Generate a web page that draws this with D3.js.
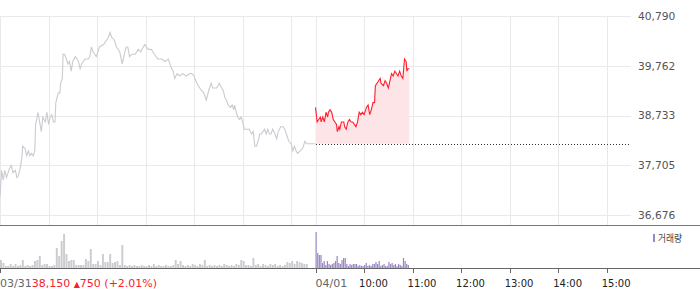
<!DOCTYPE html>
<html>
<head>
<meta charset="utf-8">
<script src="https://cdn.jsdelivr.net/npm/d3@7"></script>
<style>
  body { margin: 0; background: #fff; }
  svg { display: block; }
</style>
</head>
<body>
<div id="chart"></div>
<script>
// 03/31 session: [minutes after 09:00, price]
var prevDay = [[0,37050],[2,37600],[4,37400],[6,37600],[8,37450],[12,37650],[14,37700],[16,37550],[19,37600],[21,37450],
  [23,37500],[25,37650],[27,37850],[28,38100],[31,38050],[33,37900],[35,38000],[37,37900],[39,37950],[41,37900],
  [43,38000],[44,38550],[47,38800],[49,38600],[51,38400],[53,38700],[56,38600],[58,38800],[60,38550],[62,38700],
  [64,38750],[66,38600],[68,38600],[69,39000],[72,39200],[74,39200],[75,39400],[77,39500],[78,40000],[80,40000],
  [82,39900],[84,39800],[86,39850],[88,39650],[90,39850],[93,39950],[95,39900],[97,39850],[99,39700],[101,39800],
  [103,39850],[105,39900],[107,39900],[109,39900],[111,39950],[113,40150],[115,40050],[117,40000],[119,39950],[121,40050],
  [123,40150],[128,40200],[132,40300],[134,40350],[136,40450],[138,40350],[141,40300],[144,40150],[148,40050],[151,39800],
  [153,39950],[156,40150],[158,40150],[160,39950],[163,40000],[167,40000],[171,40100],[174,40050],[177,40150],[179,40200],
  [183,40100],[187,40100],[191,40000],[195,39900],[200,39900],[204,39850],[208,39900],[211,39750],[214,39650],[216,39500],
  [219,39600],[222,39550],[226,39600],[230,39550],[235,39600],[237,39600],[240,39550],[242,39450],[245,39350],[249,39250],
  [252,39200],[255,39050],[258,39250],[261,39400],[263,39300],[268,39300],[271,39400],[274,39300],[276,39250],[278,39100],
  [280,39050],[282,38950],[285,38900],[287,38950],[289,38850],[290,38950],[292,38800],[294,38700],[296,38650],[298,38700],
  [300,38600],[302,38450],[305,38450],[308,38450],[311,38350],[313,38400],[315,38100],[317,38100],[319,38200],[321,38350],
  [323,38350],[325,38400],[327,38450],[329,38350],[331,38450],[333,38350],[335,38350],[337,38450],[340,38350],[342,38250],
  [344,38400],[347,38500],[350,38500],[352,38450],[354,38350],[357,38200],[360,38150],[362,38000],[364,38100],[366,38000],
  [368,37950],[371,38000],[374,38050],[377,38200],[379,38150],[383,38150],[390,38150]];

// 04/01 session so far
var today = [[0,38900],[2,38600],[4,38650],[6,38700],[7,38600],[9,38700],[11,38600],[13,38800],[15,38700],[16,38800],
  [18,38850],[20,38800],[22,38650],[24,38600],[26,38550],[27,38400],[29,38500],[30,38450],[32,38600],[35,38600],
  [36,38500],[38,38450],[40,38600],[42,38650],[44,38600],[46,38600],[48,38550],[50,38500],[52,38600],[54,38800],
  [56,38750],[58,38800],[60,38750],[63,38900],[65,38950],[67,38750],[69,38850],[71,39000],[73,39000],[74,39350],
  [76,39400],[78,39450],[80,39500],[81,39400],[84,39350],[86,39450],[88,39400],[90,39300],[92,39450],[94,39600],
  [96,39550],[98,39650],[100,39600],[102,39550],[104,39650],[106,39550],[108,39500],[110,39900],[112,39850],[113,39650],
  [114,39700],[116,39700]];

// volume, thousand shares: 03/31 in 3-minute buckets, 04/01 in 2-minute buckets
var prevVolume = [8,5,2,2,4,2,4,2,3,8, 2,3,2,3,7,8,12,3,4,4, 2,2,3,20,12,27,34,14,7,8,
  8,3,3,3,3,9,7,19,4,4, 7,3,14,6,6,14,5,6,7,3, 23,3,2,3,2,3,2,2,3,2,
  2,3,2,4,2,3,2,2,3,2, 2,3,8,4,7,3,2,3,2,4, 3,2,4,3,8,2,3,2,3,2,
  3,2,4,3,2,3,2,4,3,8, 7,3,3,2,10,3,4,2,4,3, 2,4,3,4,2,3,2,3,6,5,
  7,4,7,6,5,4,4,0,0,0];
var todayVolume = [36,15,13,13,5,7,3,7,4,3, 4,5,7,12,5,4,8,10,10,4, 2,4,3,4,4,4,2,3,2,2,
  3,5,2,3,2,4,4,6,4,7, 2,3,4,2,2,6,4,5,3,4, 2,4,3,2,10,7,4,3];

var priceTicks = [36676, 37705, 38733, 39762, 40790];
var hourLabels = ["10:00", "11:00", "12:00", "13:00", "14:00", "15:00"];
var dayLabels = ["03/31", "04/01"];
var prevClose = 38150;
var closeLabel = ["38,150", "750", "(+2.01%)"];

var WIDTH = 700, HEIGHT = 289, SESSION = 390;

var svg = d3.select("#chart").append("svg")
    .attr("width", WIDTH)
    .attr("height", HEIGHT);

// both sessions laid side by side, 390 trading minutes each
var x = d3.scaleLinear().domain([0, SESSION * 2]).range([0, 631]);
var y = d3.scaleLinear().domain([36676, 40790]).range([215, 16]);
var yv = d3.scaleLinear().domain([0, 42]).range([268, 226]);

function px(v) { return Math.round(v) + 0.5; }

var grid = svg.append("g").attr("class", "grid");

grid.selectAll("line.h").data(priceTicks).enter()
  .append("line")
    .attr("x1", 0).attr("x2", 631)
    .attr("y1", function(d) { return px(y(d)); })
    .attr("y2", function(d) { return px(y(d)); })
    .attr("stroke", "#e9e9e9");

// hourly lines for both days
var gridMinutes = d3.range(0, 361, 60).concat(d3.range(SESSION, SESSION + 361, 60));

grid.selectAll("line.v").data(gridMinutes).enter()
  .append("line")
    .attr("x1", function(d) { return px(x(d)); })
    .attr("x2", function(d) { return px(x(d)); })
    .attr("y1", px(y(40790))).attr("y2", 225)
    .attr("stroke", "#e9e9e9");

// price labels on the right
svg.append("g").selectAll("text").data(priceTicks).enter()
  .append("text")
    .attr("x", 638)
    .attr("y", function(d) { return y(d); })
    .attr("dy", "0.36em")
    .attr("font-family", "DejaVu Sans")
    .attr("font-size", 10.7)
    .attr("fill", "#555")
    .text(d3.format(","));

// today area + line
var area = d3.area()
    .x(function(d) { return x(SESSION + d[0]); })
    .y0(y(prevClose))
    .y1(function(d) { return y(d[1]); });

svg.append("path")
    .datum(today)
    .attr("d", area)
    .attr("fill", "#fde5e7");

// previous close reference
svg.append("line")
    .attr("x1", Math.round(x(SESSION))).attr("x2", 631)
    .attr("y1", px(y(prevClose))).attr("y2", px(y(prevClose)))
    .attr("stroke", "#333")
    .attr("stroke-dasharray", "1,2");

var lineToday = d3.line()
    .x(function(d) { return x(SESSION + d[0]); })
    .y(function(d) { return y(d[1]); });

var linePrev = d3.line()
    .x(function(d) { return x(d[0]); })
    .y(function(d) { return y(d[1]); });

svg.append("path")
    .datum(prevDay)
    .attr("d", linePrev)
    .attr("fill", "none")
    .attr("stroke", "#c9cbd0")
    .attr("stroke-width", 1.1);

svg.append("path")
    .datum(today)
    .attr("d", lineToday)
    .attr("fill", "none")
    .attr("stroke", "#ff1e2e")
    .attr("stroke-width", 1.1);

// volume panel
var vol = svg.append("g").attr("class", "volume");

vol.selectAll("rect.prev").data(prevVolume).enter()
  .append("rect")
    .attr("x", function(d, i) { return x(i * 3); })
    .attr("width", (x(3) - x(0)) * 0.8)
    .attr("y", function(d) { return yv(d); })
    .attr("height", function(d) { return yv(0) - yv(d); })
    .attr("fill", "#cbccd0");

vol.selectAll("rect.today").data(todayVolume).enter()
  .append("rect")
    .attr("x", function(d, i) { return x(SESSION + i * 2); })
    .attr("width", (x(2) - x(0)) * 0.75)
    .attr("y", function(d) { return yv(d); })
    .attr("height", function(d) { return yv(0) - yv(d); })
    .attr("fill", "#9a86c6");

svg.append("line")
    .attr("x1", 0).attr("x2", WIDTH)
    .attr("y1", 225.5).attr("y2", 225.5)
    .attr("stroke", "#777");

svg.append("line")
    .attr("x1", 0).attr("x2", WIDTH)
    .attr("y1", 268.5).attr("y2", 268.5)
    .attr("stroke", "#666");

var tickMinutes = [0].concat(d3.range(SESSION, SESSION + 361, 60));
svg.append("g").selectAll("line").data(tickMinutes).enter()
  .append("line")
    .attr("x1", function(d) { return px(x(d)); })
    .attr("x2", function(d) { return px(x(d)); })
    .attr("y1", 268).attr("y2", 273)
    .attr("stroke", "#666");

// legend
svg.append("rect")
    .attr("x", 653).attr("y", 234)
    .attr("width", 2).attr("height", 8)
    .attr("fill", "#9a86c6");
svg.append("text")
    .attr("x", 658).attr("y", 238)
    .attr("dy", "0.36em")
    .attr("font-family", "Noto Sans CJK KR")
    .attr("font-size", 10)
    .attr("textLength", 24)
    .attr("lengthAdjust", "spacingAndGlyphs")
    .attr("fill", "#444")
    .text("거래량");

// time labels
svg.append("g").selectAll("text").data(hourLabels).enter()
  .append("text")
    .attr("x", function(d, i) { return x(SESSION + (i + 1) * 60) - 5; })
    .attr("y", 287)
    .attr("font-family", "DejaVu Sans")
    .attr("font-size", 10)
    .attr("fill", "#222")
    .text(function(d) { return d; });

svg.append("text")
    .attr("x", x(SESSION))
    .attr("y", 287)
    .attr("font-family", "DejaVu Sans")
    .attr("font-size", 11)
    .attr("fill", "#666")
    .text(dayLabels[1]);

var info = svg.append("text")
    .attr("x", 0)
    .attr("y", 287)
    .attr("font-family", "DejaVu Sans")
    .attr("font-size", 11)
    .attr("fill", "#666");
info.append("tspan").text(dayLabels[0]);
info.append("tspan").attr("fill", "#f5222d").text(closeLabel[0] + " ");
info.append("tspan").attr("fill", "#f5222d").attr("font-size", 8).text("▲");
info.append("tspan").attr("fill", "#f5222d").text(closeLabel[1] + " " + closeLabel[2]);
</script>
</body>
</html>
